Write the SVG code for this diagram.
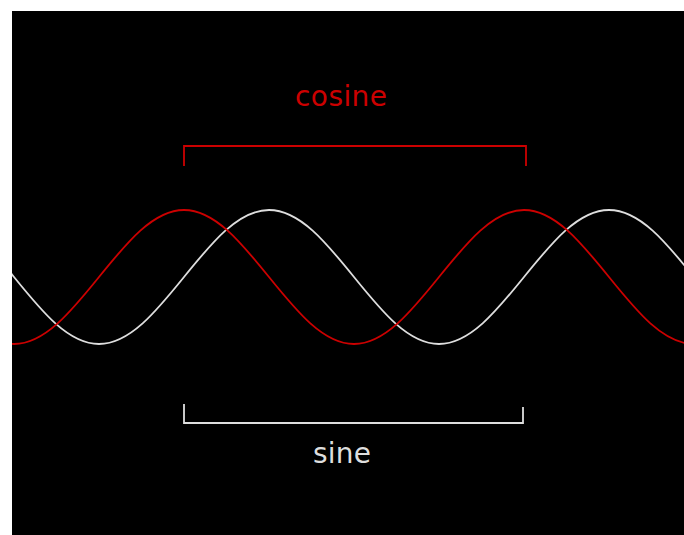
<svg xmlns="http://www.w3.org/2000/svg" width="684" height="535" viewBox="0 0 684 535">
<style>
.red{stroke:#cc0000;fill:none;stroke-width:1.8}
.wht{stroke:#dedede;fill:none;stroke-width:1.8}
.lbl{font-family:"DejaVu Sans",Verdana,sans-serif;font-size:28px;text-anchor:middle}
</style>
<defs><clipPath id="c"><rect x="12" y="11" width="672" height="524"/></clipPath></defs>
<rect x="0" y="0" width="684" height="535" fill="#ffffff"/>
<rect x="12" y="11" width="672" height="524" fill="#000000"/>
<g id="connectors" clip-path="url(#c)">
<path id="sine" class="wht" d="M-71,210 c30.76,0 57.28,32.68 85,67 c27.72,34.32 54.24,67 85,67 c30.76,0 57.28,-32.68 85,-67 c27.72,-34.32 54.24,-67 85,-67 c30.76,0 57.28,32.68 85,67 c27.72,34.32 54.24,67 85,67 c30.76,0 57.28,-32.68 85,-67 c27.72,-34.32 54.24,-67 85,-67 c30.76,0 57.28,32.68 85,67"/>
<path id="cosine" class="red" d="M-71,277 c27.72,34.32 54.24,67 85,67 c30.76,0 57.28,-32.68 85,-67 c27.72,-34.32 54.24,-67 85,-67 c30.76,0 57.28,32.68 85,67 c27.72,34.32 54.24,67 85,67 c30.76,0 57.28,-32.68 85,-67 c27.72,-34.32 54.24,-67 85,-67 c30.76,0 57.28,32.68 85,67 c27.72,34.32 54.24,67 85,67"/>
</g>
<g id="cosine-label">
<polyline class="red" points="184,166 184,146 526,146 526,166"/>
<text class="lbl" x="341" y="106" fill="#cc0000" textLength="92">cosine</text>
</g>
<g id="sine-label">
<polyline class="wht" points="184,404 184,423 523,423 523,407"/>
<text class="lbl" x="342" y="463" fill="#dedede" textLength="58">sine</text>
</g>
</svg>
